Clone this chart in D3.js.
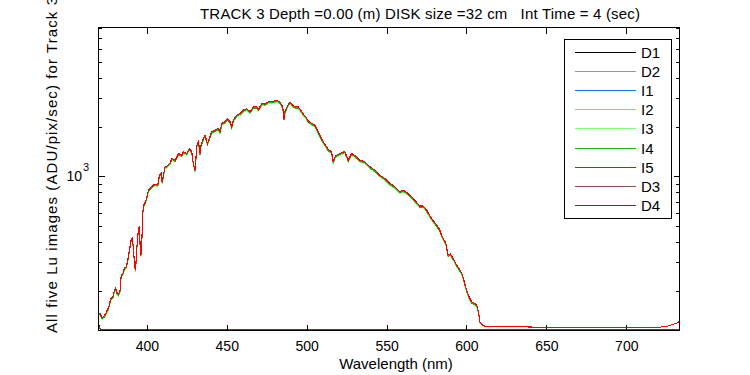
<!DOCTYPE html>
<html><head><meta charset="utf-8">
<script src="https://cdn.jsdelivr.net/npm/d3@7"></script>
<style>
body{margin:0;background:#fff;}
svg{display:block;}
text{font-family:"Liberation Sans",Arial,Helvetica,sans-serif;fill:#000;}
</style>
</head><body>
<svg id="chart" width="750" height="375"></svg>
<script>
// ---------------- DATA ----------------
const wavelength = [
369.8,370.8,372.1,373.5,374.6,375.6,376.6,377.3,378.8,379.8,
380.4,381.3,382.3,383.3,383.9,385.0,386.0,387.1,388.1,389.1,
390.2,390.8,391.6,392.3,392.9,393.3,393.9,394.8,395.4,396.0,
396.6,397.1,397.5,398.1,399.1,400.0,401.0,402.7,404.8,406.9,
407.9,408.9,409.6,410.4,411.3,412.5,414.6,415.6,417.7,419.8,
421.9,422.9,425.0,426.6,428.1,429.1,430.2,431.3,432.3,433.3,
433.9,435.4,436.4,437.9,439.1,440.6,442.7,444.8,445.8,446.9,
448.9,450.4,452.1,453.1,454.1,456.3,458.3,460.4,462.5,464.6,
466.6,468.8,469.8,471.9,473.9,476.0,478.1,481.3,483.3,485.0,
485.8,486.4,487.9,489.6,491.3,492.7,494.8,496.3,497.9,499.6,
501.0,503.1,505.2,507.3,509.4,511.4,513.5,515.6,516.6,517.7,
518.8,520.8,522.7,523.9,526.0,528.1,531.3,533.3,536.4,539.6,
542.7,545.8,548.9,552.1,555.2,558.3,560.4,563.5,566.6,570.8,
572.9,575.0,578.1,581.3,583.3,584.4,585.4,587.1,588.5,590.0,
591.6,593.8,595.8,597.5,598.9,600.0,601.6,603.1,605.2,606.6,
607.7,608.3,610.0,611.4,620.8,645.8,683.3,720.8,726.0,732.3,
733.3];

const I1 = [
146,144,136,140,147,153,162,177,183,201,
206,193,189,201,245,253,272,278,306,352,
409,415,368,285,266,306,382,484,488,328,
337,466,602,661,693,741,818,852,888,885,
1008,1037,918,1008,1129,1144,1199,1275,1243,1366,
1336,1399,1366,1467,1399,1188,1081,1536,1610,1366,
1536,1689,1768,1573,1689,1852,1895,1943,1852,2083,
2131,2231,2131,1985,2181,2342,2397,2510,2568,2452,
2628,2628,2533,2758,2733,2822,2822,2888,2810,2628,
2231,2452,2652,2822,2689,2628,2628,2510,2375,2284,
2151,2083,2033,1843,1670,1558,1441,1399,1215,1302,
1336,1366,1392,1399,1243,1366,1302,1243,1215,1133,
1081,1008,962,897,856,797,818,779,728,652,
652,618,549,500,466,435,415,387,328,333,
313,285,266,248,221,201,183,170,166,160,
145,129,124,122,121.5,120,119,120,122,128,
133];

const I2 = [
144,142,134,138,145,152,161,175,181,199,
204,191,187,199,242,251,270,275,303,349,
405,411,365,282,264,303,378,479,483,324,
333,462,596,655,686,733,809,844,879,876,
998,1026,908,998,1117,1133,1187,1262,1231,1352,
1322,1385,1352,1452,1385,1176,1070,1521,1593,1352,
1521,1672,1750,1557,1672,1834,1876,1924,1834,2062,
2110,2209,2110,1965,2159,2319,2373,2484,2542,2427,
2602,2602,2508,2730,2706,2794,2794,2859,2781,2602,
2209,2427,2625,2794,2662,2602,2602,2484,2351,2261,
2130,2062,2013,1825,1653,1543,1427,1385,1202,1289,
1322,1352,1378,1385,1231,1352,1289,1231,1202,1121,
1070,998,953,888,848,789,809,771,720,646,
646,612,544,495,462,430,411,383,324,329,
310,282,264,246,219,199,181,169,165,159,
144,129,124,122,121.5,120,119,120,122,128,
133];

const I3 = [
143,142,134,138,144,151,160,175,180,198,
203,190,186,198,241,250,268,274,301,347,
403,409,363,281,262,301,376,477,481,323,
332,459,593,651,683,729,805,839,875,872,
993,1021,904,993,1112,1127,1181,1256,1225,1346,
1315,1378,1346,1445,1378,1170,1065,1513,1585,1346,
1513,1663,1741,1549,1663,1824,1866,1914,1824,2051,
2099,2198,2099,1955,2148,2307,2360,2472,2529,2415,
2589,2589,2495,2716,2692,2780,2780,2844,2767,2589,
2198,2415,2612,2780,2648,2589,2589,2472,2339,2249,
2119,2051,2003,1815,1645,1535,1420,1378,1196,1282,
1315,1346,1371,1378,1225,1346,1282,1225,1196,1115,
1065,993,948,883,843,785,805,767,717,643,
643,608,541,492,459,428,409,381,323,328,
308,281,262,245,217,198,180,168,164,158,
144,129,124,122,121.5,120,119,120,122,128,
133];

const I4 = [
145,143,135,139,146,153,162,176,182,200,
205,192,188,200,243,252,271,277,304,351,
407,413,366,284,265,304,380,482,486,326,
335,464,599,658,690,737,814,848,884,881,
1003,1031,913,1003,1123,1139,1193,1269,1237,1359,
1329,1392,1359,1460,1392,1182,1076,1529,1602,1359,
1529,1680,1759,1565,1680,1843,1885,1934,1843,2072,
2121,2220,2121,1975,2170,2331,2385,2497,2555,2440,
2615,2615,2521,2744,2720,2808,2808,2873,2795,2615,
2220,2440,2639,2808,2675,2615,2615,2497,2363,2272,
2140,2072,2023,1834,1662,1550,1434,1392,1209,1295,
1329,1359,1385,1392,1237,1359,1295,1237,1209,1127,
1076,1003,957,892,852,793,814,775,724,649,
649,615,547,497,464,432,413,385,326,331,
311,284,265,247,220,200,182,169,165,160,
145,129,124,122,121.5,120,119,120,122,128,
133];

const I5 = [
147,145,137,141,148,155,164,179,185,203,
208,195,191,203,247,256,275,281,309,356,
413,419,372,288,269,309,386,489,493,331,
340,471,608,668,700,748,826,861,897,894,
1018,1047,927,1018,1140,1156,1211,1288,1256,1380,
1349,1413,1380,1482,1413,1200,1092,1552,1626,1380,
1552,1706,1786,1589,1706,1871,1914,1963,1871,2104,
2153,2254,2153,2005,2203,2366,2421,2535,2594,2477,
2655,2655,2559,2786,2761,2851,2851,2917,2838,2655,
2254,2477,2679,2851,2716,2655,2655,2535,2399,2307,
2173,2104,2054,1862,1687,1574,1456,1413,1227,1315,
1349,1380,1406,1413,1256,1380,1315,1256,1227,1144,
1092,1018,972,906,865,805,826,787,735,659,
659,624,555,505,471,439,419,391,331,336,
316,288,269,251,223,203,185,172,168,162,
146,130,124,122,121.5,120,119,120,122,128,
133];

const darkWavelength = [369.8,370.5,371.5,375,400,450,500,550,600,650,700,733.3];
const D1 = [125,119,116.5,116,115.9,116,116.1,116,115.9,116,116,116.2];
const D2 = [124,118.5,116.3,115.8,115.8,115.9,116,115.9,115.8,115.9,116,116.1];
const D3 = [124.5,119,116.4,116,115.9,116,116,115.9,115.9,116,116,116.1];
const D4 = [123.5,118,116.2,115.8,115.7,115.8,115.9,115.8,115.7,115.8,115.9,116];

const seriesNames  = ["D1","D2","I1","I2","I3","I4","I5","D3","D4"];
const seriesColors = ["#000000","#999999","#0a7aff","#3fe4ff","#7dff7d","#14b414","#ff0000","#8a4e4e","#6a3535"];
const xTickValues = [400,450,500,550,600,650,700];
const yMinorTicks = [200,300,400,500,600,700,800,900,2000,3000,4000,5000,6000,7000,8000];
const yMajorTicks = [1000];
const xDomain = [369.75, 733.3];
const yDomain = [114.6, 8100];
const titleText = "TRACK 3 Depth =0.00 (m) DISK size =32 cm   Int Time = 4 (sec)";
const xLabelText = "Wavelength (nm)";
const yLabelText = "All five Lu images (ADU/pix/sec) for Track 3";

// ---------------- CHART ----------------
const svg = d3.select("#chart");
const L = 98.5, R = 679.5, T = 27.5, B = 330.5;

const x = d3.scaleLinear().domain(xDomain).range([L, R]);
const y = d3.scaleLog().domain(yDomain).range([B, T]);

const seriesData = {
  D1: darkWavelength.map((w,i)=>[w,D1[i]]),
  D2: darkWavelength.map((w,i)=>[w,D2[i]]),
  I1: wavelength.map((w,i)=>[w,I1[i]]),
  I2: wavelength.map((w,i)=>[w,I2[i]]),
  I3: wavelength.map((w,i)=>[w,I3[i]]),
  I4: wavelength.map((w,i)=>[w,I4[i]]),
  I5: wavelength.map((w,i)=>[w,I5[i]]),
  D3: darkWavelength.map((w,i)=>[w,D3[i]]),
  D4: darkWavelength.map((w,i)=>[w,D4[i]])
};

svg.append("defs").append("clipPath").attr("id","clip")
  .append("rect").attr("x",L).attr("y",T).attr("width",R-L).attr("height",B-T);

const line = d3.line().x(d=>x(d[0])).y(d=>y(d[1]));
const g = svg.append("g").attr("clip-path","url(#clip)");
seriesNames.forEach((n,i)=>{
  g.append("path").datum(seriesData[n])
    .attr("d",line).attr("fill","none")
    .attr("stroke",seriesColors[i]).attr("stroke-width",1.1)
    .attr("shape-rendering","crispEdges");
});

// frame
svg.append("rect").attr("x",L).attr("y",T).attr("width",R-L).attr("height",B-T)
  .attr("fill","none").attr("stroke","#000").attr("stroke-width",1)
  .attr("shape-rendering","crispEdges");

function styleAxis(sel){
  sel.select(".domain").remove();
  sel.selectAll("line").attr("stroke","#000").attr("shape-rendering","crispEdges");
}
// x axes
svg.append("g").attr("transform",`translate(0,${B})`)
  .call(d3.axisBottom(x).tickValues(xTickValues).tickSizeInner(-6).tickSizeOuter(0).tickPadding(11).tickFormat(d3.format("d")))
  .call(styleAxis)
  .call(s=>s.selectAll("text").attr("font-size",14).attr("font-family","'Liberation Sans',Arial,sans-serif"));
svg.append("g").attr("transform",`translate(0,${T})`)
  .call(d3.axisTop(x).tickValues(xTickValues).tickSizeInner(-6).tickSizeOuter(0).tickFormat(""))
  .call(styleAxis);
// y axes
svg.append("g").attr("transform",`translate(${L},0)`)
  .call(d3.axisLeft(y).tickValues(yMinorTicks).tickSizeInner(-3.5).tickSizeOuter(0).tickFormat(""))
  .call(styleAxis);
svg.append("g").attr("transform",`translate(${L},0)`)
  .call(d3.axisLeft(y).tickValues(yMajorTicks).tickSizeInner(-6).tickSizeOuter(0).tickFormat(""))
  .call(styleAxis);
svg.append("g").attr("transform",`translate(${R},0)`)
  .call(d3.axisRight(y).tickValues(yMinorTicks).tickSizeInner(-3.5).tickSizeOuter(0).tickFormat(""))
  .call(styleAxis);
svg.append("g").attr("transform",`translate(${R},0)`)
  .call(d3.axisRight(y).tickValues(yMajorTicks).tickSizeInner(-6).tickSizeOuter(0).tickFormat(""))
  .call(styleAxis);

// 10^3 label
yMajorTicks.forEach(v=>{
  svg.append("text").attr("x",82).attr("y",y(v)+5).attr("text-anchor","end").attr("font-size",14).text("10");
  svg.append("text").attr("x",83).attr("y",y(v)-5).attr("font-size",11).text(String(Math.round(Math.log10(v))));
});

// titles
svg.append("text").attr("x",420).attr("y",19).attr("text-anchor","middle")
  .attr("font-size",15).attr("textLength",440).attr("lengthAdjust","spacing")
  .style("white-space","pre").text(titleText);
svg.append("text").attr("x",396).attr("y",369).attr("text-anchor","middle")
  .attr("font-size",15).text(xLabelText);
svg.append("text").attr("transform","translate(57,333) rotate(-90)")
  .attr("font-size",15).attr("textLength",336).attr("lengthAdjust","spacing")
  .text(yLabelText);

// legend
const lg = svg.append("g");
lg.append("rect").attr("x",564.5).attr("y",39.5).attr("width",107).attr("height",179)
  .attr("fill","#fff").attr("stroke","#000").attr("shape-rendering","crispEdges");
seriesNames.forEach((n,i)=>{
  const yy = Math.round(51.5 + i*19.2) + 0.5;
  lg.append("line").attr("x1",575).attr("x2",636).attr("y1",yy).attr("y2",yy)
    .attr("stroke",seriesColors[i]).attr("stroke-width",1);
  lg.append("text").attr("x",641).attr("y",yy+5.5).attr("font-size",15).text(n);
});
</script>
</body></html>
